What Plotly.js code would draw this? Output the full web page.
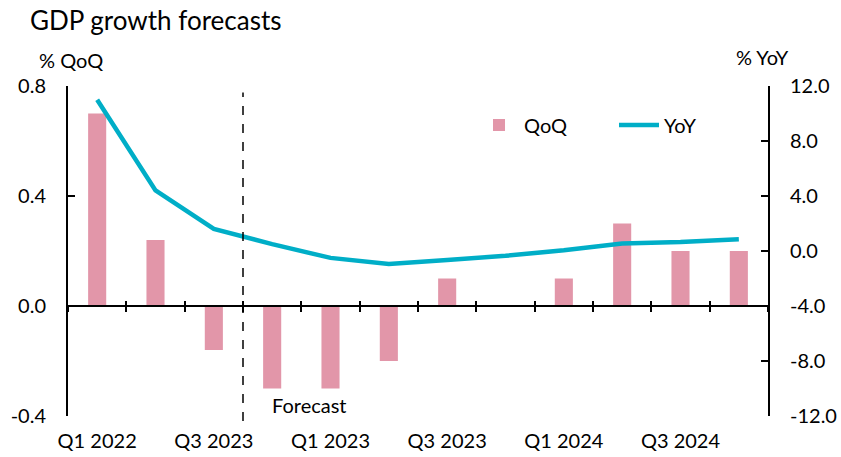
<!DOCTYPE html>
<html>
<head>
<meta charset="utf-8">
<script src="https://cdn.plot.ly/plotly-3.0.1.min.js"></script>
<style>html,body{margin:0;padding:0;background:#fff;}#chart{width:841px;height:457px;}</style>
</head>
<body>
<div id="chart"></div>
<script>
// Data
var quarters = ['Q1 2022','Q2 2022','Q3 2022','Q4 2022','Q1 2023','Q2 2023','Q3 2023','Q4 2023','Q1 2024','Q2 2024','Q3 2024','Q4 2024'];
var qoq = [0.70, 0.24, -0.16, -0.30, -0.30, -0.20, 0.10, 0.00, 0.10, 0.30, 0.20, 0.20];
var yoy = [11.0, 4.4, 1.6, 0.5, -0.5, -0.95, -0.65, -0.35, 0.05, 0.55, 0.65, 0.85];
var xTickVals = ['Q1 2022','Q3 2022','Q1 2023','Q3 2023','Q1 2024','Q3 2024'];
var xTickText = ['Q1 2022','Q3 2023','Q1 2023','Q3 2023','Q1 2024','Q3 2024'];
var leftTickVals = [-0.4, 0, 0.4, 0.8];
var leftTickText = ['-0.4','0.0','0.4','0.8'];
var rightTickVals = [-12, -8, -4, 0, 4, 8, 12];
var rightTickText = ['-12.0','-8.0','-4.0','0.0','4.0','8.0','12.0'];
var forecastStart = 2.5;

var FONT = 'Lato, "Open Sans", sans-serif';
var FS = 20;
var pink = '#E296A9';
var teal = '#00AEC7';

var traces = [
  {type:'bar', name:'QoQ', x:quarters, y:qoq, xaxis:'x', yaxis:'y',
   marker:{color:pink}, legend:'legend', hoverinfo:'skip'},
  {type:'scatter', mode:'lines', name:'YoY', x:quarters, y:yoy, xaxis:'x2', yaxis:'y2',
   line:{color:teal, width:4.5}, legend:'legend2', hoverinfo:'skip'},
  {type:'scatter', mode:'lines', x:quarters, y:yoy, xaxis:'x3', yaxis:'y2',
   line:{color:'rgba(0,0,0,0)', width:0}, showlegend:false, hoverinfo:'skip'}
];

var catAxisBase = {type:'category', categoryorder:'array', categoryarray:quarters,
  range:[-0.5, 11.5], fixedrange:true};

var layout = {
  width:841, height:457,
  margin:{l:68, r:73, t:86, b:41},
  paper_bgcolor:'#fff', plot_bgcolor:'rgba(0,0,0,0)',
  font:{family:FONT, size:FS, color:'#000'},
  bargap:0.69,
  showlegend:true,
  title:{text:'GDP growth forecasts', font:{family:FONT, size:26, color:'#000'},
    x:30/841, xanchor:'left', xref:'container', y:1-21/457, yanchor:'middle', yref:'container'},
  xaxis:Object.assign({}, catAxisBase, {
    showline:false, showgrid:false, zeroline:false, ticks:'',
    tickmode:'array', tickvals:xTickVals, ticktext:xTickText,
    tickfont:{family:FONT, size:FS}, ticklabelstandoff:11
  }),
  xaxis2:Object.assign({}, catAxisBase, {
    overlaying:'x', anchor:'free', position:1/3, side:'bottom',
    showline:true, linecolor:'#000', linewidth:2,
    showgrid:false, zeroline:false, showticklabels:false,
    ticks:'outside', tickson:'boundaries', ticklen:5, tickwidth:2, tickcolor:'#000'
  }),
  xaxis3:Object.assign({}, catAxisBase, {
    overlaying:'x', anchor:'free', position:1/3, side:'bottom',
    showline:false, showgrid:false, zeroline:false, showticklabels:false,
    ticks:'inside', tickson:'boundaries', ticklen:5, tickwidth:2, tickcolor:'#000'
  }),
  yaxis:{range:[-0.4, 0.8], tickmode:'array', tickvals:leftTickVals, ticktext:leftTickText,
    showline:true, linecolor:'#000', linewidth:2, ticks:'inside', ticklen:7, tickwidth:2, tickcolor:'#000',
    showgrid:false, zeroline:false, tickfont:{family:FONT, size:FS}, ticklabelstandoff:16, fixedrange:true},
  yaxis2:{range:[-12, 12], overlaying:'y', side:'right', anchor:'x',
    tickmode:'array', tickvals:rightTickVals, ticktext:rightTickText,
    showline:true, linecolor:'#000', linewidth:2, ticks:'inside', ticklen:7, tickwidth:2, tickcolor:'#000',
    showgrid:false, zeroline:false, tickfont:{family:FONT, size:FS}, ticklabelstandoff:16, fixedrange:true},
  legend:{x:(474-68)/700, y:1-(125-86)/330, xanchor:'left', yanchor:'middle', orientation:'h',
    font:{family:FONT, size:FS}, bgcolor:'rgba(0,0,0,0)', itemwidth:40},
  legend2:{x:(614-68)/700, y:1-(125-86)/330, xanchor:'left', yanchor:'middle', orientation:'h',
    font:{family:FONT, size:FS}, bgcolor:'rgba(0,0,0,0)', itemwidth:40},
  shapes:[
    {type:'line', xref:'x', yref:'paper', x0:forecastStart, x1:forecastStart, y0:-0.015, y1:0.98,
     line:{color:'#000', width:1.5, dash:'dash'}}
  ],
  annotations:[
    {text:'% QoQ', xref:'paper', yref:'paper', x:(37-68)/700, y:1+(86-60)/330, xanchor:'left', yanchor:'middle',
     showarrow:false, font:{family:FONT, size:FS}},
    {text:'% YoY', xref:'paper', yref:'paper', x:(734-68)/700, y:1+(86-57)/330, xanchor:'left', yanchor:'middle',
     showarrow:false, font:{family:FONT, size:FS}},
    {text:'Forecast', xref:'x', yref:'y', x:3, y:-0.36, xanchor:'left', yanchor:'middle', xshift:-2,
     showarrow:false, font:{family:FONT, size:FS}}
  ]
};

Plotly.newPlot('chart', traces, layout, {staticPlot:true, displayModeBar:false});
</script>
</body>
</html>
